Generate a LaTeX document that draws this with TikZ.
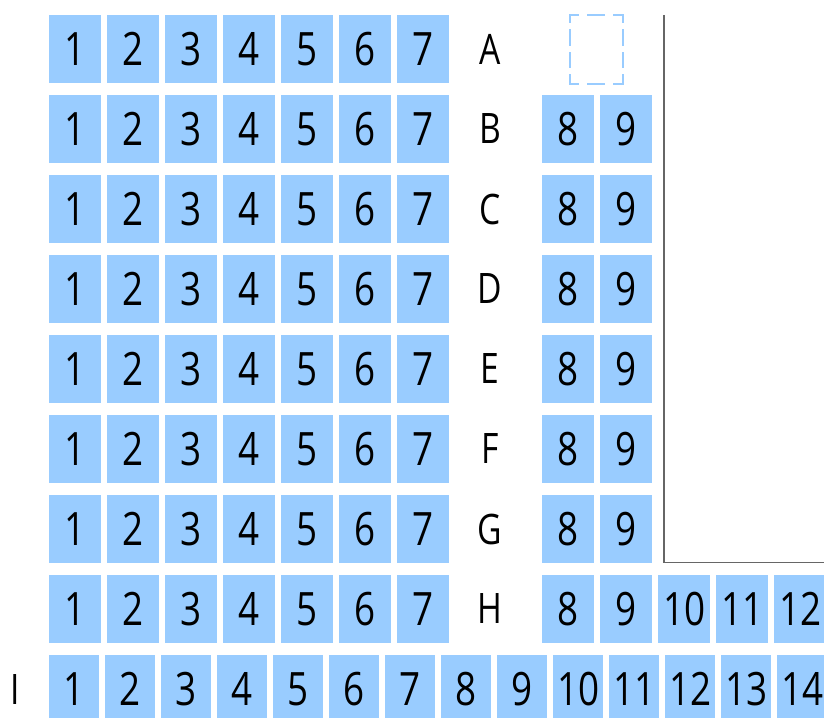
\documentclass[tikz,border=0pt]{standalone}
\usepackage{fontspec}
\setmainfont{Open Sans}[FakeStretch=0.8]
\definecolor{seat}{HTML}{99CCFF}
\definecolor{wall}{HTML}{666666}
\tikzset{
  seatbox/.style={rectangle, fill=seat, inner sep=0pt, minimum width=52pt, minimum height=68pt, anchor=north west, font=\fontsize{46}{46}\selectfont},
  seatboxi/.style={seatbox, minimum width=50pt},
  rowlabel/.style={inner sep=0pt, font=\fontsize{42}{42}\selectfont},
  emptybox/.style={rectangle, inner sep=0pt, minimum width=52pt, minimum height=68pt, anchor=center},
  hdash/.style={draw=seat, line width=2pt, line cap=rect, dash pattern=on 16pt off 10pt, dash phase=8pt},
  vdash/.style={draw=seat, line width=2pt, line cap=rect, dash pattern=on 14.5pt off 8pt, dash phase=7.25pt},
  wallline/.style={draw=wall, line width=1.5pt}
}
\begin{document}
\begin{tikzpicture}[x=1pt,y=-1pt]
\useasboundingbox (0,0) rectangle (824,717);
\begin{scope}
\clip (0,0) rectangle (824,717);
\foreach \L [count=\i from 0] in {A,B,C,D,E,F,G,H} {
  \foreach \c in {1,...,7} {
    \node[seatbox] (s\L\c) at ({49+58*(\c-1)},{15+80*\i}) {\c};
  }
  \node[rowlabel] (lab\L) at (490,{49+80*\i}) {\L};
}
\foreach \L [count=\i from 1] in {B,C,D,E,F,G,H} {
  \node[seatbox] (s\L8) at (542,{15+80*\i}) {8};
  \node[seatbox] (s\L9) at (600,{15+80*\i}) {9};
}
\node[seatbox] (sH10) at (658,575) {10};
\node[seatbox] (sH11) at (716,575) {11};
\node[seatbox] (sH12) at (774,575) {12};
\foreach \c in {1,...,14} {
  \node[seatboxi] (sI\c) at ({49+56*(\c-1)},655) {\c};
}
\node[rowlabel] (labI) at (15,689) {I};
\node[emptybox] (sA89) at (596.3,49.3) {};
\draw[hdash] (sA89.north west) -- (sA89.north east);
\draw[hdash] (sA89.south west) -- (sA89.south east);
\draw[vdash] (sA89.north west) -- (sA89.south west);
\draw[vdash] (sA89.north east) -- (sA89.south east);
\coordinate (w1) at (664,15);
\coordinate (w2) at (664,562.5);
\coordinate (w3) at (824,562.5);
\draw[wallline] (w1) -- (w2) -- (w3);
\end{scope}
\end{tikzpicture}
\end{document}
